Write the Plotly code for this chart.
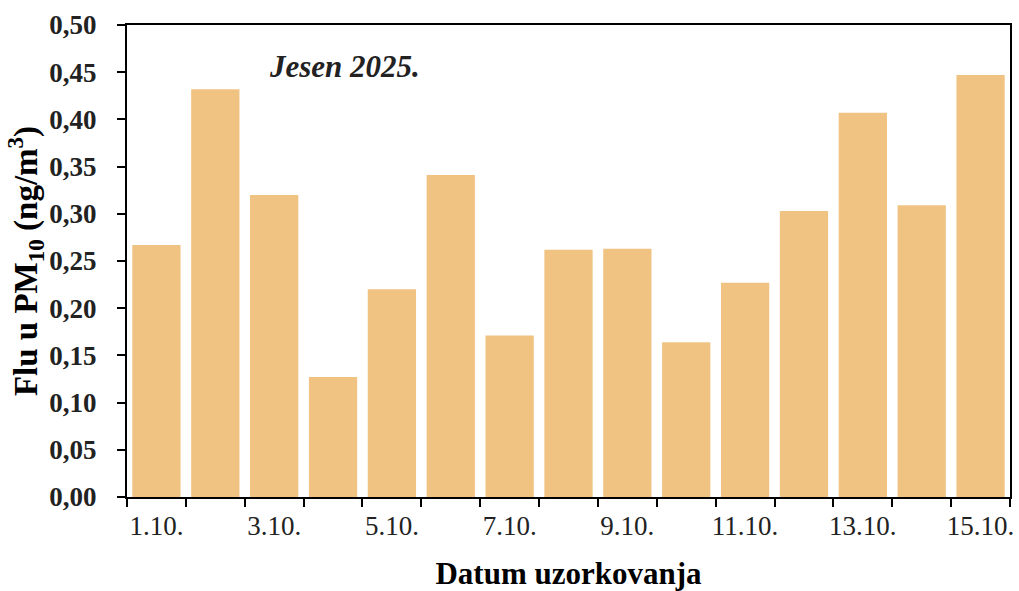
import plotly.graph_objects as go

dates = ["1.10.", "2.10.", "3.10.", "4.10.", "5.10.", "6.10.", "7.10.", "8.10.",
         "9.10.", "10.10.", "11.10.", "12.10.", "13.10.", "14.10.", "15.10."]
flu = [0.267, 0.432, 0.320, 0.127, 0.220, 0.341, 0.171, 0.262,
       0.263, 0.164, 0.227, 0.303, 0.407, 0.309, 0.447]
tick_labels = [d if i % 2 == 0 else "" for i, d in enumerate(dates)]

serif = "Liberation Serif, Times New Roman, serif"

fig = go.Figure(go.Bar(
    x=dates, y=flu,
    marker=dict(color="rgb(240,195,130)", line=dict(width=0)),
    width=0.82,
))

fig.update_layout(
    width=1019, height=591,
    margin=dict(l=127, r=9, t=25, b=94),
    plot_bgcolor="white", paper_bgcolor="white",
    separators=",.",
    showlegend=False,
    font=dict(family=serif, color="black"),
    annotations=[dict(
        text="<b><i>Jesen 2025.</i></b>", x=0.158, y=0.912,
        xref="paper", yref="paper", xanchor="left", yanchor="middle",
        showarrow=False, font=dict(family=serif, size=31, color="#222"),
    )],
)

fig.update_xaxes(
    type="category", range=[-0.5, 14.5], automargin=False,
    tickmode="array", tickvals=dates, ticktext=tick_labels, tickangle=0,
    tickson="boundaries", ticks="outside", ticklen=8, tickwidth=2, tickcolor="black",
    showline=True, linecolor="black", linewidth=2, mirror=True,
    showgrid=False, ticklabelstandoff=4,
    tickfont=dict(family=serif, size=27, color="#222"),
    title=dict(text="<b>Datum uzorkovanja</b>", font=dict(family=serif, size=31, color="black"), standoff=28),
)

fig.update_yaxes(
    range=[0, 0.5], dtick=0.05, tick0=0, tickformat=".2f", automargin=False,
    ticks="outside", ticklen=8, tickwidth=2, tickcolor="black",
    showline=True, linecolor="black", linewidth=2, mirror=True,
    showgrid=False, zeroline=False,
    tickfont=dict(family=serif, size=27, color="#222", weight="bold"),
    ticklabelstandoff=15,
    title=dict(text="<b>Flu u PM<sub>10</sub> (ng/m<sup>3</sup>)</b>",
               font=dict(family=serif, size=33, color="black"), standoff=2),
)

fig.write_html(
    "out.html",
    config={"displayModeBar": False},
    post_script="document.body.style.margin='0';document.body.style.overflow='hidden';",
)
